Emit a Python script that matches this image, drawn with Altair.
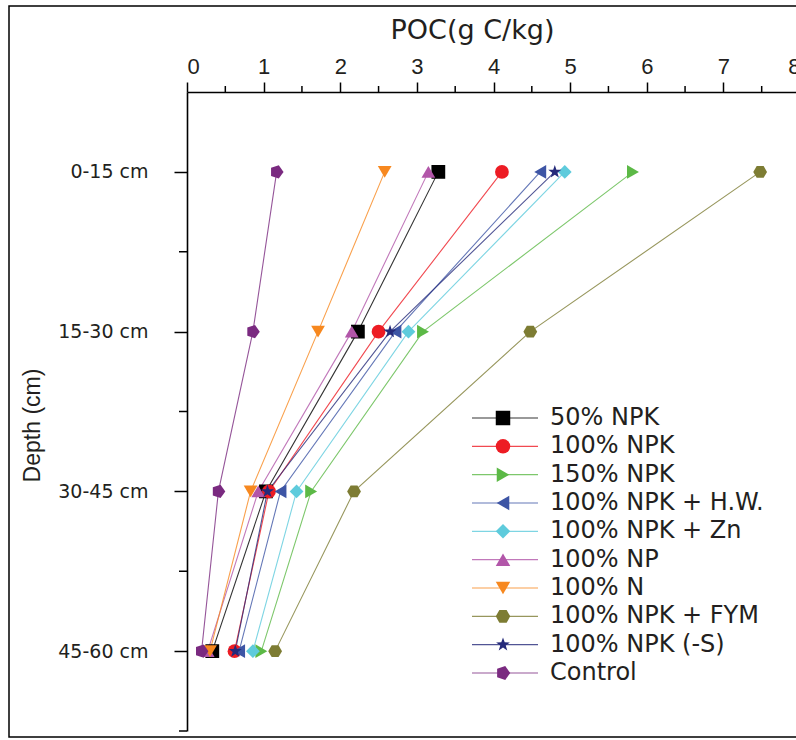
import altair as alt
import pandas as pd

# ---------------- data ----------------
depths = ["0-15 cm", "15-30 cm", "30-45 cm", "45-60 cm"]
series = ["50% NPK", "100% NPK", "150% NPK", "100% NPK + H.W.", "100% NPK + Zn",
          "100% NP", "100% N", "100% NPK + FYM", "100% NPK (-S)", "Control"]

npk50 = [3.28, 2.23, 1.03, 0.33]
npk100 = [4.11, 2.50, 1.07, 0.62]
npk150 = [5.82, 3.08, 1.62, 0.97]
npk_hw = [4.61, 2.72, 1.22, 0.68]
npk_zn = [4.93, 2.89, 1.43, 0.86]
np100 = [3.15, 2.15, 0.93, 0.27]
n100 = [2.58, 1.71, 0.83, 0.30]
npk_fym = [7.48, 4.48, 2.18, 1.15]
npk_s = [4.80, 2.65, 1.05, 0.63]
control = [1.17, 0.86, 0.41, 0.19]

x_ticks = [0, 1, 2, 3, 4, 5, 6, 7, 8]
x_minor = [0.5, 1.5, 2.5, 3.5, 4.5, 5.5, 6.5, 7.5]
y_minor = [0.5, 1.5, 2.5, 3.5]

# ---------------- styles ----------------
colors = ["#000000", "#ed1c24", "#5cb946", "#3d55a5", "#5ecbdc",
          "#b256a9", "#f7881f", "#7d7c33", "#252a7a", "#7a2a80"]
hexagon = "M-1,0L-0.5,-0.87L0.5,-0.87L1,0L0.5,0.87L-0.5,0.87Z"
pentagon = "M1,0L0.31,0.95L-0.81,0.59L-0.81,-0.59L0.31,-0.95Z"
star = ("M0,-1L0.235,-0.324L0.951,-0.309L0.38,0.124L0.588,0.809L0,0.4"
        "L-0.588,0.809L-0.38,0.124L-0.951,-0.309L-0.235,-0.324Z")
shapes = ["square", "circle", "triangle-right", "triangle-left", "diamond",
          "triangle-up", "triangle-down", hexagon, star, pentagon]

all_vals = [npk50, npk100, npk150, npk_hw, npk_zn, np100, n100, npk_fym, npk_s, control]
rows = []
for s, vals in zip(series, all_vals):
    for i, (d, v) in enumerate(zip(depths, vals)):
        rows.append({"Series": s, "Depth": d, "Idx": i, "POC": v})
df = pd.DataFrame(rows)

legend_df = pd.DataFrame({"Series": series})
xminor_df = pd.DataFrame({"POC": x_minor})
yminor_df = pd.DataFrame({"Idx": y_minor})

label_expr = "[" + ",".join("'" + d + "'" for d in depths) + "][datum.value]"

color_enc = alt.Color("Series:N", scale=alt.Scale(domain=series, range=colors), legend=None)
shape_enc = alt.Shape("Series:N", scale=alt.Scale(domain=series, range=shapes), legend=None)

x_enc = alt.X(
    "POC:Q",
    scale=alt.Scale(domain=[0, 8], range=[0, 613], nice=False, zero=True),
    axis=alt.Axis(
        orient="top", values=x_ticks, title="POC(g C/kg)", format="d",
        tickSize=10, labelPadding=4, labelFontSize=22, labelFont="Liberation Sans",
        titleFont="DejaVu Sans", titleFontSize=27, titleFontWeight="normal",
        titleX=285, titleY=-54, titleBaseline="alphabetic", titleAnchor="middle",
    ),
)
y_enc = alt.Y(
    "Idx:Q",
    scale=alt.Scale(domain=[-0.5, 3.5], reverse=True, nice=False, zero=False),
    axis=alt.Axis(
        values=[0, 1, 2, 3], labelExpr=label_expr, title="Depth (cm)",
        tickSize=13, labelPadding=26, labelFontSize=19, labelFont="DejaVu Sans",
        titleFont="Liberation Sans", titleFontSize=23, titleFontWeight="normal",
        titleX=-148, titleY=333, titleBaseline="alphabetic", titleAngle=-90,
    ),
)

base = alt.Chart(df)
lines = base.mark_line(strokeWidth=1.1, opacity=0.8).encode(
    x=x_enc, y=y_enc, color=color_enc, order=alt.Order("Idx:Q"))
points = base.mark_point(filled=True, opacity=1, size=190).encode(
    x=x_enc, y=y_enc, color=color_enc, shape=shape_enc)
xminor = alt.Chart(xminor_df).mark_rule(color="black", strokeWidth=1.5).encode(
    x=x_enc, y=alt.value(-6), y2=alt.value(0))
yminor = alt.Chart(yminor_df).mark_rule(color="black", strokeWidth=1.5).encode(
    y=y_enc, x=alt.value(-8), x2=alt.value(0))

main = alt.layer(xminor, yminor, lines, points)

leg_y = alt.Y("Series:N", sort=series,
              scale=alt.Scale(type="point", range=[326, 581], padding=0), axis=None)
leg_lines = alt.Chart(legend_df).mark_rule(strokeWidth=1.1, opacity=0.8).encode(
    y=leg_y, x=alt.value(285), x2=alt.value(351), color=color_enc)
leg_pts = alt.Chart(legend_df).mark_point(filled=True, opacity=1, size=210).encode(
    y=leg_y, x=alt.value(316), color=color_enc, shape=shape_enc)
leg_text = alt.Chart(legend_df).mark_text(
    align="left", baseline="middle", font="DejaVu Sans", fontSize=24, color="#231f20",
    clip=False).encode(y=leg_y, x=alt.value(363), text="Series:N")
legend = alt.layer(leg_lines, leg_pts, leg_text)

frame = alt.Chart(pd.DataFrame({"a": [0]})).mark_rect(
    fillOpacity=0, stroke="black", strokeWidth=1.5).encode(
    x=alt.value(-178), x2=alt.value(640), y=alt.value(-86), y2=alt.value(645))

chart = alt.layer(frame, main, legend).resolve_scale(y="independent").properties(
    width=609, height=639,
    autosize=alt.AutoSizeParams(type="none"),
    padding={"left": 187, "top": 92, "right": 0, "bottom": 9},
    background="white",
).configure_view(stroke=None).configure_axis(
    grid=False, domainColor="black", tickColor="black", domainWidth=1.6, tickWidth=1.5,
    labelColor="#231f20", titleColor="#231f20",
)

chart.save("out.html", embed_options={"renderer": "svg", "actions": False})
